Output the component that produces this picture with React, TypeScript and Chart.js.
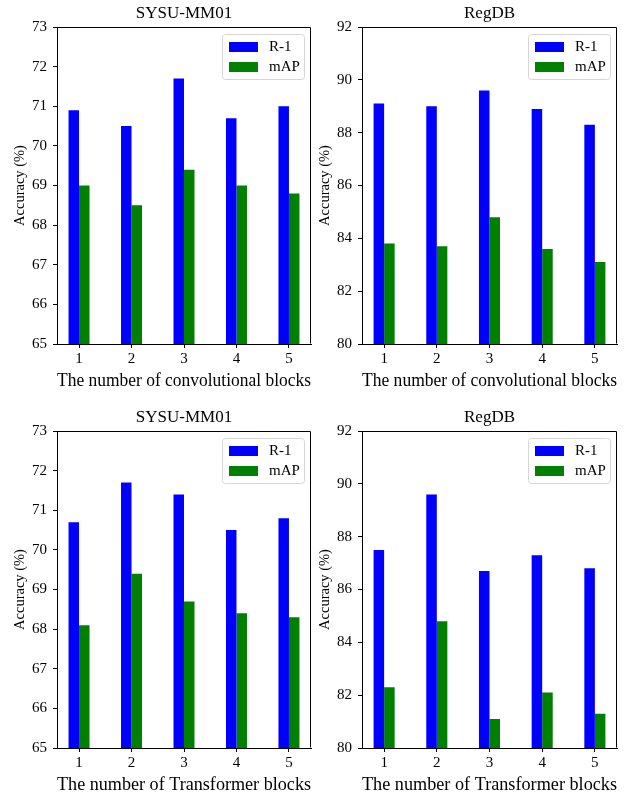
import React, { useEffect, useRef } from "react";
import { Chart, registerables } from "chart.js";

Chart.register(...registerables);

const FONT = "'Liberation Serif', 'Times New Roman', serif";

const categories = ["1", "2", "3", "4", "5"];
const seriesNames = ["R-1", "mAP"];
const seriesColors = ["#0000ff", "#008000"];

const sysuConvR1 = [70.9, 70.5, 71.7, 70.7, 71.0];
const sysuConvMAP = [69.0, 68.5, 69.4, 69.0, 68.8];
const regdbConvR1 = [89.1, 89.0, 89.6, 88.9, 88.3];
const regdbConvMAP = [83.8, 83.7, 84.8, 83.6, 83.1];
const sysuTransR1 = [70.7, 71.7, 71.4, 70.5, 70.8];
const sysuTransMAP = [68.1, 69.4, 68.7, 68.4, 68.3];
const regdbTransR1 = [87.5, 89.6, 86.7, 87.3, 86.8];
const regdbTransMAP = [82.3, 84.8, 81.1, 82.1, 81.3];

const sysuRange = [65, 73, 1];
const regdbRange = [80, 92, 2];

const titles = ["SYSU-MM01", "RegDB", "SYSU-MM01", "RegDB"];
const xTitles = [
  "The number of convolutional blocks",
  "The number of convolutional blocks",
  "The number of Transformer blocks",
  "The number of Transformer blocks",
];
const yTitle = "Accuracy (%)";

const panels = [
  { title: titles[0], xTitle: xTitles[0], r1: sysuConvR1, map: sysuConvMAP, range: sysuRange, left: 0, top: 0, width: 320, padRight: 9 },
  { title: titles[1], xTitle: xTitles[1], r1: regdbConvR1, map: regdbConvMAP, range: regdbRange, left: 305, top: 0, width: 334, padRight: 22 },
  { title: titles[2], xTitle: xTitles[2], r1: sysuTransR1, map: sysuTransMAP, range: sysuRange, left: 0, top: 404, width: 320, padRight: 9 },
  { title: titles[3], xTitle: xTitles[3], r1: regdbTransR1, map: regdbTransMAP, range: regdbRange, left: 305, top: 404, width: 334, padRight: 22 },
];

const PANEL_H = 400;

const framePlugin = {
  id: "frameAndLegend",
  afterDatasetsDraw(chart: any) {
    const { ctx, chartArea } = chart;
    ctx.save();
    const l = Math.round(chartArea.left) + 0.5;
    const t = Math.round(chartArea.top) + 0.5;
    const r = Math.round(chartArea.right) - 0.5;
    const b = Math.round(chartArea.bottom) - 0.5;
    ctx.strokeStyle = "#000";
    ctx.lineWidth = 1;
    ctx.beginPath();
    ctx.moveTo(l, t);
    ctx.lineTo(r, t);
    ctx.lineTo(r, b);
    ctx.stroke();

    ctx.font = `15px ${FONT}`;
    const ds = chart.data.datasets;
    const tw = Math.max(...ds.map((d: any) => ctx.measureText(d.label).width));
    const w = Math.round(46 + tw + 5);
    const h = 45;
    const x = Math.round(chartArea.right - 7 - w) + 0.5;
    const y = Math.round(chartArea.top + 7) + 0.5;
    ctx.beginPath();
    if (ctx.roundRect) ctx.roundRect(x, y, w, h, 3);
    else ctx.rect(x, y, w, h);
    ctx.fillStyle = "rgba(255,255,255,0.8)";
    ctx.fill();
    ctx.strokeStyle = "#d6d6d6";
    ctx.stroke();
    ds.forEach((d: any, i: number) => {
      const ry = Math.round(y + 7 + i * 20);
      ctx.fillStyle = d.backgroundColor;
      ctx.fillRect(Math.round(x + 6), ry, 29, 10);
      ctx.fillStyle = "#000";
      ctx.textAlign = "left";
      ctx.textBaseline = "middle";
      ctx.fillText(d.label, Math.round(x + 46), ry + 5);
    });
    ctx.restore();
  },
};

function Panel({ p }: { p: any }) {
  const ref = useRef<HTMLCanvasElement>(null);
  useEffect(() => {
    if (!ref.current) return;
    const seriesValues = [p.r1, p.map];
    const chart = new Chart(ref.current, {
      type: "bar",
      data: {
        datasets: seriesNames.map((name, si) => ({
          label: name,
          data: categories.map((_, i) => ({ x: i, y: seriesValues[si][i] })),
          backgroundColor: seriesColors[si],
          borderWidth: 0,
          categoryPercentage: 0.4,
          barPercentage: 1.0,
        })),
      },
      options: {
        animation: false,
        responsive: false,
        events: [],
        layout: { padding: { left: 0, top: 3, right: p.padRight, bottom: 8 } },
        plugins: {
          legend: { display: false },
          tooltip: { enabled: false },
          title: {
            display: true,
            text: p.title,
            fullSize: false,
            color: "#000",
            font: { family: FONT, size: 17, weight: "normal" },
            padding: { top: 0, bottom: 3.6 },
          },
        },
        scales: {
          x: {
            type: "linear",
            min: -0.42,
            max: 4.42,
            bounds: "data",
            offset: false,
            afterBuildTicks: (scale: any) => {
              scale.ticks = categories.map((_, i) => ({ value: i }));
            },
            afterFit: (scale: any) => {
              scale.height = 48;
            },
            ticks: {
              autoSkip: false,
              maxRotation: 0,
              includeBounds: false,
              color: "#000",
              padding: 2,
              font: { family: FONT, size: 15 },
              callback: (v: any) => categories[Math.round(Number(v))],
            },
            grid: { offset: false, drawOnChartArea: false, drawTicks: true, tickLength: 4, color: "#000", lineWidth: 1 },
            border: { display: true, color: "#000", width: 1 },
            title: {
              display: true,
              text: p.xTitle,
              color: "#000",
              font: { family: FONT, size: 18.7 },
              padding: { top: 0, bottom: 0 },
            },
          },
          y: {
            type: "linear",
            min: p.range[0],
            max: p.range[1],
            afterFit: (scale: any) => {
              scale.width = 57;
            },
            ticks: {
              stepSize: p.range[2],
              color: "#000",
              padding: 6,
              font: { family: FONT, size: 15 },
            },
            grid: { drawOnChartArea: false, drawTicks: true, tickLength: 4, color: "#000", lineWidth: 1 },
            border: { display: true, color: "#000", width: 1 },
            title: {
              display: true,
              text: yTitle,
              color: "#000",
              font: { family: FONT, size: 14.5 },
              padding: { top: 11, bottom: 0 },
            },
          },
        },
      },
      plugins: [framePlugin],
    } as any);
    return () => chart.destroy();
  }, [p]);
  return (
    <canvas
      ref={ref}
      width={p.width}
      height={PANEL_H}
      style={{ position: "absolute", left: p.left, top: p.top, width: p.width, height: PANEL_H, display: "block" }}
    />
  );
}

export default function App() {
  return (
    <div style={{ position: "absolute", left: 0, top: 0, width: 639, height: 795, background: "#fff", overflow: "hidden" }}>
      {panels.map((p, i) => (
        <Panel key={i} p={p} />
      ))}
    </div>
  );
}
